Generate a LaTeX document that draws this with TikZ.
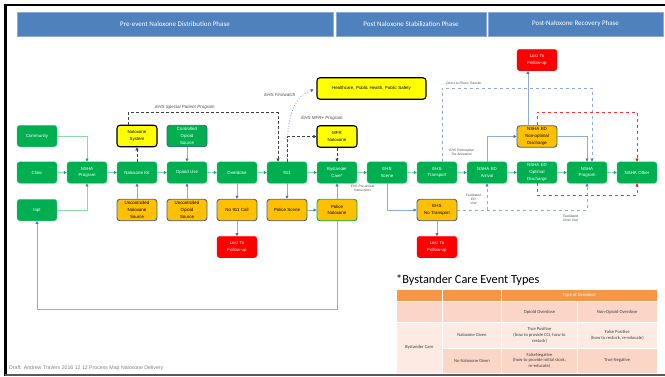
\documentclass[tikz,border=0pt]{standalone}
\usepackage{fontspec}
\setmainfont{Liberation Sans}
\newfontfamily\tabfont{Carlito}
\usetikzlibrary{arrows.meta,calc}
\definecolor{nxgreen}{HTML}{00B050}
\definecolor{nxgreenln}{HTML}{8ADBAA}
\definecolor{nxyellow}{HTML}{FFFF00}
\definecolor{nxorange}{HTML}{FFC000}
\definecolor{nxred}{HTML}{FF0000}
\definecolor{nxsteel}{HTML}{41608F}
\definecolor{nxblue}{HTML}{4F81BD}
\definecolor{nxblueln}{HTML}{8EAADB}
\definecolor{nxarrow}{HTML}{4472C4}
\definecolor{nxtab}{HTML}{F79646}
\definecolor{nxtabA}{HTML}{FBD5C5}
\definecolor{nxtabB}{HTML}{FDEAE2}
\tikzset{
  box/.style={rounded corners=3pt,minimum width=40pt,minimum height=21.5pt,inner sep=1pt,align=center,font=\fontsize{4.4}{6.6}\selectfont,text width=38pt},
  gbox/.style={box,fill=nxgreen,draw=nxgreen!75!white,text=white},
  ybox/.style={box,fill=nxyellow,draw=black,line width=1.1pt},
  obox/.style={box,fill=nxorange,draw=nxsteel,line width=0.9pt},
  rbox/.style={box,fill=nxred,draw=nxred,text=white},
  phase/.style={fill=nxblue,draw=nxblueln,line width=0.6pt,text=white,font=\tabfont\fontsize{7}{8}\selectfont,minimum height=24pt,inner sep=0pt},
  gar/.style={-{Triangle[length=3pt,width=3pt,color=nxgreen]},draw=nxgreenln,line width=0.9pt},
  bar/.style={-{Triangle[length=3pt,width=3pt,color=nxarrow]},draw=nxblueln,line width=0.9pt},
  kdash/.style={-{Triangle[length=3pt,width=3pt]},draw=black!75,densely dashed,line width=0.5pt},
  bdash/.style={-{Triangle[length=3pt,width=3pt,color=nxarrow]},draw=nxblueln,dashed,line width=0.6pt},
  bdot/.style={-{Triangle[length=3pt,width=3pt,color=nxarrow]},draw=nxarrow!80,dotted,line width=0.7pt},
  rdash/.style={-{Triangle[length=3pt,width=3pt,color=nxred]},draw=nxred!80,dashed,line width=0.6pt},
  lbl/.style={font=\itshape\fontsize{4.5}{5}\selectfont,text=black!70,align=center,inner sep=0pt},
  lbls/.style={lbl,font=\itshape\fontsize{3.3}{4.2}\selectfont},
  cell/.style={draw=white,line width=0.8pt,inner sep=0pt,align=center,font=\tabfont\fontsize{4.6}{5.6}\selectfont,text=black!75},
}
\begin{document}
\begin{tikzpicture}[x=1pt,y=-1pt]
  \useasboundingbox (0,0) rectangle (665,376);
  \draw[line width=2.5pt,black] (5.5,376) -- (5.5,5) -- (665,5);
  \draw[line width=1.2pt,black!65] (5,375) -- (665,375);
  % phases
  \node[phase,minimum width=316pt] (ph1) at (175,24) {Pre-event Naloxone Distribution Phase};
  \node[phase,minimum width=150pt] (ph2) at (411,24) {Post Naloxone Stabilization Phase};
  \node[phase,minimum width=175pt] (ph3) at (575.5,24) {Post-Naloxone Recovery Phase};
  % nodes
  \node[gbox] (comm) at (37,136) {Community};
  \node[gbox] (clinic) at (37,172.5) {Clinic};
  \node[gbox] (inpt) at (37,210) {Inpt};
  \node[gbox] (nsha) at (87,172.5) {NSHA\\Program};
  \node[gbox] (kit) at (137,172.5) {Naloxone Kit};
  \node[ybox] (nsys) at (137,136) {Naloxone\\System};
  \node[obox] (unal) at (137,210) {Uncontrolled\\Naloxone\\Source};
  \node[gbox] (use) at (187,172.5) {Opioid Use};
  \node[gbox,draw=nxsteel,line width=0.9pt] (cops) at (187,136) {Controlled\\Opioid\\Source};
  \node[obox] (uops) at (187,210) {Uncontrolled\\Opioid\\Source};
  \node[gbox] (od) at (237,172.5) {Overdose};
  \node[obox] (no911) at (237,210) {No 911 Call};
  \node[rbox] (lostA) at (237,247) {Lost To\\Follow-up};
  \node[gbox] (e911) at (287,172.5) {911};
  \node[obox] (pscene) at (287,210) {Police Scene};
  \node[gbox] (byst) at (337,172.5) {Bystander\\Care*};
  \node[obox,draw=nxgreen] (pnal) at (337,210) {Police\\Naloxone};
  \node[ybox] (mfr) at (337,136.5) {MFR\\Naloxone};
  \node[ybox,minimum width=109pt,text width=105pt] (hps) at (371.5,88.5) {Healthcare, Public Health, Public Safety};
  \node[gbox] (scene) at (387,172.5) {EHS\\Scene};
  \node[gbox] (transp) at (437,172.5) {EHS\\Transport};
  \node[obox] (notr) at (437,210) {EHS\\No Transport};
  \node[rbox] (lostB) at (437,247) {Lost To\\Follow-up};
  \node[gbox] (arr) at (487,172.5) {NSHA ED\\Arrival};
  \node[gbox] (optd) at (537,172.5) {NSHA ED\\Optimal\\Discharge};
  \node[obox] (nopt) at (537,136.5) {NSHA ED\\Non-optimal\\Discharge};
  \node[rbox] (lostC) at (537,60) {Lost To\\Follow-up};
  \node[gbox] (nshb) at (587,172.5) {NSHA\\Program};
  \node[gbox] (other) at (637,172.5) {NSHA Other};
  % main flow
  \draw[gar] (clinic) -- (nsha); \draw[gar] (nsha) -- (kit); \draw[gar] (kit) -- (use);
  \draw[gar] (use) -- (od); \draw[gar] (od) -- (e911); \draw[gar] (e911) -- (byst);
  \draw[gar] (byst) -- (scene); \draw[gar] (scene) -- (transp); \draw[gar] (transp) -- (arr);
  \draw[gar] (arr) -- (optd); \draw[gar] (optd) -- (nshb); \draw[gar] (nshb) -- (other);
  \draw[gar] (comm) -| (nsha); \draw[gar] (inpt) -| (nsha);
  % side flows
  \draw[bar] (cops) -- (use); \draw[bar] (unal) -- (kit); \draw[bar] (uops) -- (use);
  \draw[bar] (od) -- (no911); \draw[bar] (no911) -- (lostA);
  \draw[bar] (e911) -- (pscene); \draw[bar] (pscene) -- (pnal); \draw[bar] (pnal) -- (byst);
  \coordinate (loopR) at (337,309); \coordinate (loopL) at (37,309);
  \draw[bar,line width=0.6pt] (pnal.south) -- (loopR) -- (loopL) -- (inpt.south);
  \draw[bar] (scene) |- (notr); \draw[bar] (notr) -- (lostB);
  \draw[bar] (arr) |- (nopt);
  \draw[bar] ([xshift=-9pt]nopt.north) -- ([xshift=-9pt]lostC.south);
  \draw[bar] (nopt) -| (nshb);
  % programs
  \draw[kdash] (kit) -- (nsys);
  \draw[kdash] ([xshift=-9pt]nsys.north) -- ++(0,-12) -| ([xshift=-9pt]e911.north);
  \draw[kdash] (e911.north) |- (mfr);
  \draw[kdash] (mfr) -- (byst);
  \draw[bdot,shorten >=3pt] (e911.north) to[out=90,in=200] (hps.west);
  \coordinate (dfl) at (442,88); \coordinate (fed) at (487,210);
  \draw[bdash] ([xshift=5pt]transp.north) -- (dfl) -| ([xshift=5pt]nshb.north);
  \draw[bdash] (notr) -| (nshb); \draw[bdash] (fed) -- (arr);
  \draw[rdash] (nopt.north) -- ++(0,-13) -| (other.north);
  \draw[rdash] (optd.south) -- ++(0,12) -| (other.south);
  % labels
  \node[lbl] (lspp) at (185,107) {EHS Special Patient Program};
  \node[lbl] (lfw) at (280,95) {EHS Firstwatch};
  \node[lbl] (lmfr) at (322,118) {EHS MFR+ Program};
  \node[lbls] (lpre) at (362.5,188.5) {EHS Pre-Arrival\\Instructions};
  \node[lbls] (ltox) at (461.5,152.5) {EHS Prehospital\\Tox Activation};
  \node[lbls] (ldir) at (464,83) {Direct to Floors Transfer};
  \node[lbls] (lfed) at (473.5,199.5) {Facilitated\\ED\\Visit};
  \node[lbls] (lfcv) at (570.5,218) {Facilitated\\Clinic Visit};
  \node[anchor=west,inner sep=0pt,font=\fontsize{5.2}{6}\selectfont,text=black!50] (draft) at (9,368) {Draft: Andrew Travers 2016 12 12 Process Map Naloxone Delivery};
  % table
  \node[anchor=west,inner sep=0pt,font=\tabfont\fontsize{12.3}{13}\selectfont] (ttl) at (396,280) {*Bystander Care Event Types};
  \node[cell,fill=nxtab,minimum width=46.5pt,minimum height=12.5pt] (h1) at (419.25,295.25) {};
  \node[cell,fill=nxtab,minimum width=59pt,minimum height=12.5pt] (h2) at (472,295.25) {};
  \node[cell,fill=nxtab,minimum width=155.5pt,minimum height=12.5pt,text=white] (h3) at (579.25,295.25) {Type of Overdose};
  \node[cell,fill=nxtabA,minimum width=46.5pt,minimum height=21pt] (r1) at (419.25,312) {};
  \node[cell,fill=nxtabA,minimum width=59pt,minimum height=21pt] (r2) at (472,312) {};
  \node[cell,fill=nxtabA,minimum width=76pt,minimum height=21pt] (r3) at (539.5,312) {Opioid Overdose};
  \node[cell,fill=nxtabA,minimum width=79.5pt,minimum height=21pt] (r4) at (617.25,312) {Non-Opioid Overdose};
  \node[cell,fill=nxtabB,minimum width=46.5pt,minimum height=50.5pt] (bc) at (419.25,347.75) {Bystander Care};
  \node[cell,fill=nxtabB,minimum width=59pt,minimum height=25.5pt] (ng) at (472,335.25) {Naloxone Given};
  \node[cell,fill=nxtabB,minimum width=76pt,minimum height=25.5pt] (tp) at (539.5,335.25) {True Positive\\(how to provide CCI, how to\\restock)};
  \node[cell,fill=nxtabB,minimum width=79.5pt,minimum height=25.5pt] (fp) at (617.25,335.25) {False Positive\\(how to restock, re-educate)};
  \node[cell,fill=nxtabA,minimum width=59pt,minimum height=25pt] (nn) at (472,360.5) {No Naloxone Given};
  \node[cell,fill=nxtabA,minimum width=76pt,minimum height=25pt] (fn) at (539.5,360.5) {FalseNegative\\(how to provide initial stock,\\re-educate)};
  \node[cell,fill=nxtabA,minimum width=79.5pt,minimum height=25pt] (tn) at (617.25,360.5) {True Negative};
\end{tikzpicture}
\end{document}
